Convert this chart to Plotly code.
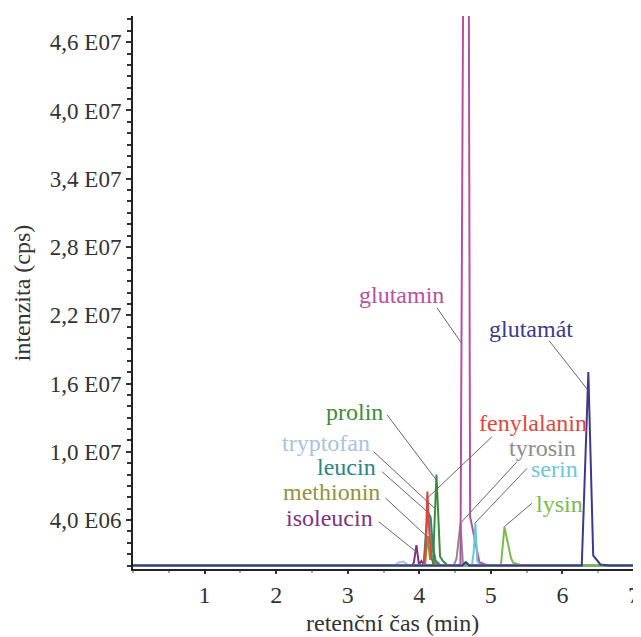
import plotly.graph_objects as go

# ---------------- data (retention time in min, intensity in cps) ----------------
compounds = ["tryptofan", "isoleucin", "methionin", "leucin", "fenylalanin",
             "prolin", "tyrosin", "glutamin", "serin", "lysin", "glutamát"]

t_tryptofan = [0, 3.65, 3.72, 3.78, 3.85, 4.06, 4.11, 4.14, 4.18, 4.24, 7]
i_tryptofan = [0, 0, 0.3e6, 0.35e6, 0, 0, 3.0e6, 4.3e6, 1.5e6, 0, 0]

t_isoleucin = [0, 3.90, 3.925, 3.96, 3.995, 4.03, 4.07, 7]
i_isoleucin = [0, 0, 0.3e6, 1.8e6, 0.1e6, 0.4e6, 0, 0]

t_methionin = [0, 4.08, 4.12, 4.15, 4.19, 4.22, 4.26, 7]
i_methionin = [0, 0, 2.6e6, 0.5e6, 2.4e6, 0.3e6, 0, 0]

t_leucin = [0, 4.06, 4.10, 4.13, 4.16, 4.19, 4.23, 4.30, 7]
i_leucin = [0, 0, 3.5e6, 4.6e6, 4.2e6, 1.5e6, 0.4e6, 0, 0]

t_fenylalanin = [0, 4.07, 4.09, 4.113, 4.14, 4.17, 4.22, 7]
i_fenylalanin = [0, 0, 2.0e6, 6.5e6, 3.0e6, 0.6e6, 0, 0]

t_prolin = [0, 4.19, 4.24, 4.29, 4.33, 4.40, 7]
i_prolin = [0, 0, 8.0e6, 0.8e6, 0.4e6, 0, 0]

t_tyrosin = [0, 4.48, 4.52, 4.575, 4.61, 4.65, 7]
i_tyrosin = [0, 0, 0.6e6, 3.7e6, 0.1e6, 0, 0]

t_glutamin = [0, 4.50, 4.575, 4.665, 4.71, 4.84, 4.92, 5.0, 7]
i_glutamin = [0, 0, 0.1e6, 1.2e8, 4.3e6, 0.3e6, 0.1e6, 0, 0]

t_serin = [0, 4.735, 4.76, 4.783, 4.81, 4.85, 7]
i_serin = [0, 0, 1.2e6, 3.8e6, 0.4e6, 0, 0]

t_lysin = [0, 5.14, 5.19, 5.28, 5.31, 5.45, 7]
i_lysin = [0, 0, 3.4e6, 0.7e6, 0.25e6, 0, 0]

t_glutamat = [0, 4.60, 4.65, 4.70, 6.27, 6.362, 6.43, 6.53, 6.65, 7]
i_glutamat = [0, 0, 0.3e6, 0, 0, 17.0e6, 0.9e6, 0.1e6, 0, 0]

x_ticks = [1, 2, 3, 4, 5, 6, 7]
y_ticks = [4.0e6, 1.0e7, 1.6e7, 2.2e7, 2.8e7, 3.4e7, 4.0e7, 4.6e7]
y_tick_labels = ["4,0 E06", "1,0 E07", "1,6 E07", "2,2 E07", "2,8 E07",
                 "3,4 E07", "4,0 E07", "4,6 E07"]

series = {
    "tryptofan": (t_tryptofan, i_tryptofan),
    "isoleucin": (t_isoleucin, i_isoleucin),
    "methionin": (t_methionin, i_methionin),
    "leucin": (t_leucin, i_leucin),
    "fenylalanin": (t_fenylalanin, i_fenylalanin),
    "prolin": (t_prolin, i_prolin),
    "tyrosin": (t_tyrosin, i_tyrosin),
    "glutamin": (t_glutamin, i_glutamin),
    "serin": (t_serin, i_serin),
    "lysin": (t_lysin, i_lysin),
    "glutamát": (t_glutamat, i_glutamat),
}

# ---------------- styles ----------------
colors = {
    "tryptofan": "#a9c3e3",
    "isoleucin": "#7e3383",
    "methionin": "#8f9440",
    "leucin": "#2b8584",
    "fenylalanin": "#e0473c",
    "prolin": "#3d8b3d",
    "tyrosin": "#8c8c8c",
    "glutamin": "#b8509e",
    "serin": "#6fc7d6",
    "lysin": "#7cba4d",
    "glutamát": "#3c3a8c",
}

# label text anchor (x, y, anchor) and leader line (from -> to), data coords
labels = {
    "glutamin":    dict(x=4.378, y=23.8e6, anchor="right", line=(4.249, 22.64e6, 4.588, 19.57e6)),
    "glutamát":    dict(x=4.951, y=20.8e6, anchor="left",  line=(5.817, 19.74e6, 6.344, 15.52e6)),
    "prolin":      dict(x=3.527, y=13.5e6, anchor="right", line=(3.55, 13.24e6, 4.239, 7.52e6)),
    "tryptofan":   dict(x=3.345, y=10.78e6, anchor="right", line=(3.363, 10.01e6, 4.211, 5.06e6)),
    "leucin":      dict(x=3.429, y=8.67e6, anchor="right", line=(3.48, 8.25e6, 4.131, 4.62e6)),
    "methionin":   dict(x=3.48, y=6.47e6, anchor="right", line=(3.527, 5.94e6, 4.109, 2.54e6)),
    "isoleucin":   dict(x=3.387, y=4.18e6, anchor="right", line=(3.433, 3.86e6, 3.955, 1.22e6)),
    "fenylalanin": dict(x=4.807, y=12.53e6, anchor="left", line=(5.017, 11.33e6, 4.109, 5.91e6)),
    "tyrosin":     dict(x=5.226, y=10.34e6, anchor="left", line=(5.366, 9.13e6, 4.574, 3.72e6)),
    "serin":       dict(x=5.538, y=8.49e6, anchor="left", line=(5.506, 8.55e6, 4.783, 3.77e6)),
    "lysin":       dict(x=5.598, y=5.41e6, anchor="left", line=(5.575, 5.48e6, 5.189, 3.42e6)),
}

FONT = "Liberation Serif"

fig = go.Figure()
for name in compounds:
    tx, iy = series[name]
    fig.add_trace(go.Scatter(x=tx, y=iy, mode="lines", name=name,
                             line=dict(color=colors[name], width=2),
                             showlegend=False))

for name, lab in labels.items():
    x0, y0, x1, y1 = lab["line"]
    fig.add_shape(type="line", xref="x", yref="y", x0=x0, y0=y0, x1=x1, y1=y1,
                  line=dict(color="#666666", width=1))
    fig.add_annotation(x=lab["x"], y=lab["y"], xref="x", yref="y", text=name,
                       showarrow=False, xanchor=lab["anchor"], yanchor="middle",
                       font=dict(family=FONT, size=24, color=colors[name]))

# axis titles
fig.add_annotation(xref="paper", yref="paper", x=0.517, y=-0.098, text="retenční čas (min)",
                   showarrow=False, xanchor="center", yanchor="middle",
                   font=dict(family=FONT, size=24, color="#333333"))
fig.add_annotation(xref="paper", yref="paper", x=-0.222, y=0.5, text="intenzita (cps)",
                   showarrow=False, xanchor="center", yanchor="middle", textangle=-90,
                   font=dict(family=FONT, size=24, color="#333333"))

# the page body adds an 8px offset, so the figure is 8px smaller than the window
fig.update_layout(
    width=633, height=629,
    margin=dict(l=125, r=7, t=8, b=68, autoexpand=False),
    paper_bgcolor="white", plot_bgcolor="white",
    font=dict(family=FONT, size=24, color="#333333"),
)
fig.update_xaxes(range=[0, 7.0], tickvals=x_ticks, ticktext=[str(v) for v in x_ticks],
                 automargin=False,
                 showline=True, linecolor="#222222", linewidth=2, showgrid=False,
                 zeroline=False, ticks="outside", ticklen=3, tickwidth=1.5, tickcolor="#333333",
                 minor=dict(tickmode="linear", tick0=0, dtick=0.5, ticks="outside",
                            ticklen=2, tickcolor="#aaaaaa"),
                 tickfont=dict(family=FONT, size=24, color="#333333"))
fig.update_yaxes(range=[-0.3e6, 4.83e7], tickvals=y_ticks, ticktext=y_tick_labels,
                 automargin=False,
                 showline=True, linecolor="#222222", linewidth=2, showgrid=False,
                 zeroline=False, ticks="outside", ticklen=5, tickwidth=1.5, tickcolor="#333333",
                 minor=dict(tickmode="linear", tick0=0, dtick=1e6, ticks="outside",
                            ticklen=4, tickcolor="#333333"),
                 tickfont=dict(family=FONT, size=23, color="#333333"))

fig.write_html("out.html")
